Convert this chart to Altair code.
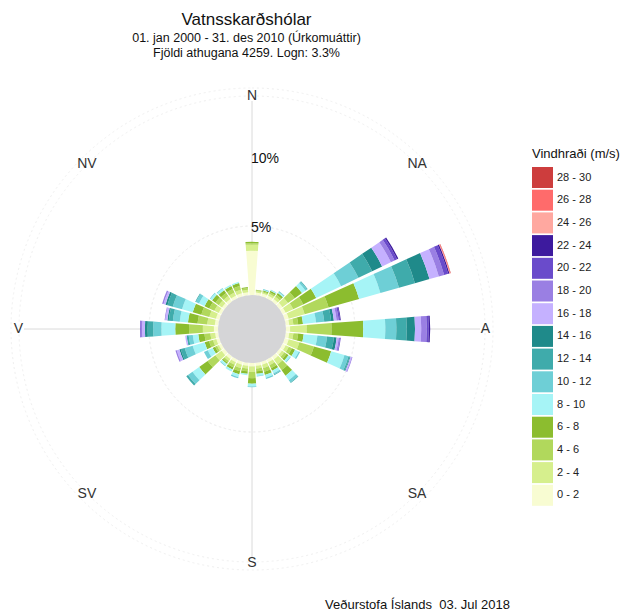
import math
import altair as alt
import pandas as pd

FONT = "Liberation Sans"

# ---------------- data ----------------
directions = [0, 10, 20, 30, 40, 50, 60, 70, 80, 90, 100, 110, 120, 130, 140, 150, 160, 170,
              180, 190, 200, 210, 220, 230, 240, 250, 260, 270, 280, 290, 300, 310, 320, 330, 340, 350]

speed_classes = ["0 - 2", "2 - 4", "4 - 6", "6 - 8", "8 - 10", "10 - 12", "12 - 14", "14 - 16",
                 "16 - 18", "18 - 20", "20 - 22", "22 - 24", "24 - 26", "26 - 28", "28 - 30"]
class_colors = ["#f8fcd2", "#d6ef8d", "#b1d85c", "#8cbd2f", "#a6f4f6", "#6ecfd6", "#3fabab", "#1f8a8a",
                "#c5b1ff", "#9a7fe3", "#6a4bcb", "#3d1a9e", "#ffa8a0", "#ff6b6b", "#cd3d3d"]

# frequency (%) per direction for each wind speed class
speed_0_2 = [3.2, 0.2, 0.2, 0.22, 0.22, 0.25, 0.25, 0.3, 0.25, 0.3, 0.25, 0.3, 0.25, 0.22, 0.25, 0.22, 0.22, 0.22,
             0.25, 0.22, 0.22, 0.22, 0.22, 0.25, 0.2, 0.22, 0.22, 0.3, 0.25, 0.25, 0.22, 0.22, 0.22, 0.22, 0.22, 0.22]
speed_2_4 = [0.45, 0.1, 0.1, 0.15, 0.2, 0.5, 0.6, 1.2, 0.3, 1.2, 0.3, 0.8, 0.25, 0.2, 0.45, 0.23, 0.25, 0.2,
             0.4, 0.2, 0.25, 0.2, 0.18, 0.55, 0.15, 0.25, 0.35, 0.8, 0.55, 0.5, 0.35, 0.28, 0.25, 0.25, 0.28, 0.18]
speed_4_6 = [0.1, 0.05, 0.08, 0.13, 0.18, 0.6, 0.8, 1.8, 0.35, 1.8, 0.35, 1.1, 0.25, 0.2, 0.5, 0.25, 0.28, 0.2,
             0.45, 0.2, 0.25, 0.2, 0.15, 0.7, 0.15, 0.3, 0.43, 1.0, 0.7, 0.6, 0.4, 0.3, 0.28, 0.28, 0.28, 0.12]
speed_6_8 = [0.1, 0.05, 0.07, 0.12, 0.15, 0.65, 1.05, 2.3, 0.35, 2.3, 0.4, 1.3, 0.25, 0.18, 0.5, 0.2, 0.25, 0.18,
             0.4, 0.18, 0.23, 0.18, 0.1, 0.75, 0.2, 0.33, 0.45, 1.0, 0.7, 0.65, 0.38, 0.3, 0.25, 0.25, 0.22, 0.08]
speed_8_10 = [0, 0, 0.05, 0.05, 0.08, 0.3, 2.0, 1.6, 0.95, 1.6, 1.0, 1.0, 0.3, 0.15, 0.4, 0.2, 0.2, 0.15,
              0.2, 0.1, 0.2, 0.15, 0.15, 0.6, 0.4, 0.9, 0.4, 1.0, 0.6, 0.8, 0.45, 0.15, 0.15, 0.1, 0.1, 0]
speed_10_12 = [0, 0, 0.05, 0.03, 0.05, 0.15, 1.4, 1.4, 0.6, 0.8, 0.7, 0.3, 0.1, 0.05, 0.2, 0.1, 0.1, 0.05,
               0.05, 0, 0.1, 0, 0.05, 0.4, 0.3, 0.6, 0.3, 0.6, 0.5, 0.7, 0.25, 0.05, 0.05, 0, 0, 0]
speed_12_14 = [0, 0, 0, 0, 0.02, 0.05, 1.1, 1.2, 0.5, 0.75, 0.5, 0.1, 0, 0, 0.05, 0.05, 0, 0,
               0, 0, 0, 0, 0, 0.15, 0, 0.3, 0.15, 0.4, 0.3, 0.4, 0.05, 0, 0, 0, 0, 0]
speed_14_16 = [0, 0, 0, 0, 0, 0, 0.8, 1.1, 0.2, 0.6, 0.2, 0.05, 0, 0, 0, 0, 0, 0,
               0, 0, 0, 0, 0, 0, 0, 0.1, 0, 0.2, 0.1, 0.15, 0, 0, 0, 0, 0, 0]
speed_16_18 = [0, 0, 0, 0, 0, 0, 0.7, 0.7, 0.2, 0.45, 0.15, 0.1, 0, 0, 0, 0, 0, 0,
               0, 0, 0, 0, 0, 0, 0, 0.2, 0.1, 0.2, 0.15, 0.15, 0, 0, 0, 0, 0, 0]
speed_18_20 = [0, 0, 0, 0, 0, 0, 0.3, 0.4, 0.15, 0.4, 0.1, 0.05, 0, 0, 0, 0, 0, 0,
               0, 0, 0, 0, 0, 0, 0, 0.1, 0, 0.1, 0.05, 0.1, 0, 0, 0, 0, 0, 0]
speed_20_22 = [0, 0, 0, 0, 0, 0, 0.2, 0.3, 0.1, 0.15, 0.05, 0, 0, 0, 0, 0, 0, 0,
               0, 0, 0, 0, 0, 0, 0, 0, 0, 0.05, 0, 0, 0, 0, 0, 0, 0, 0]
speed_22_24 = [0, 0, 0, 0, 0, 0, 0.1, 0.1, 0.05, 0.1, 0, 0, 0, 0, 0, 0, 0, 0,
               0, 0, 0, 0, 0, 0, 0, 0, 0, 0, 0, 0, 0, 0, 0, 0, 0, 0]
speed_24_26 = [0, 0, 0, 0, 0, 0, 0, 0.03, 0, 0, 0, 0, 0, 0, 0, 0, 0, 0,
               0, 0, 0, 0, 0, 0, 0, 0, 0, 0, 0, 0, 0, 0, 0, 0, 0, 0]
speed_26_28 = [0, 0, 0, 0, 0, 0, 0, 0.05, 0, 0, 0, 0, 0, 0, 0, 0, 0, 0,
               0, 0, 0, 0, 0, 0, 0, 0, 0, 0, 0, 0, 0, 0, 0, 0, 0, 0]
speed_28_30 = [0, 0, 0, 0, 0, 0, 0, 0.02, 0, 0, 0, 0, 0, 0, 0, 0, 0, 0,
               0, 0, 0, 0, 0, 0, 0, 0, 0, 0, 0, 0, 0, 0, 0, 0, 0, 0]

compass_names = ["N", "NA", "A", "SA", "S", "SV", "V", "NV"]
compass_angles = [0, 45, 90, 135, 180, 225, 270, 315]
ring_values = [5, 10]
ring_labels = ["5%", "10%"]
spoke_angles = [0, 90, 180, 270]

title_text = "Vatnsskarðshólar"
subtitle_lines = ["01. jan 2000 - 31. des 2010 (Úrkomuáttir)", "Fjöldi athugana 4259. Logn: 3.3%"]
footer_text = "Veðurstofa Íslands \u00a003. Jul 2018"
legend_title = "Vindhraði (m/s)"

# ---------------- build stacked segments ----------------
class_values = [speed_0_2, speed_2_4, speed_4_6, speed_6_8, speed_8_10, speed_10_12, speed_12_14,
                speed_14_16, speed_16_18, speed_18_20, speed_20_22, speed_22_24, speed_24_26,
                speed_26_28, speed_28_30]
HALF_WIDTH = 4.3  # degrees
rows = []
for i, d in enumerate(directions):
    cum = 0.0
    for k, cls in enumerate(speed_classes):
        v = class_values[k][i]
        if v > 0:
            rows.append({"dir": d, "t0": d - HALF_WIDTH, "t1": d + HALF_WIDTH,
                         "r0": cum, "r1": cum + v, "speed": cls})
            cum += v
seg = pd.DataFrame(rows)

theta_scale = alt.Scale(domain=[0, 360], range=[0, 2 * math.pi])
radius_scale = alt.Scale(type="linear", domain=[0, 15], range=[34, 241])
TWO_PI = 2 * math.pi

spokes = alt.Chart(pd.DataFrame({"angle": spoke_angles})).mark_arc(
    radius=228, radius2=34, fillOpacity=0, stroke="#e6e6e6", strokeWidth=1
).encode(
    theta=alt.Theta("angle:Q", scale=theta_scale, stack=False),
    theta2="angle:Q",
)

rings = alt.Chart(pd.DataFrame({"pct": ring_values})).mark_arc(
    theta=0, theta2=TWO_PI, fillOpacity=0, stroke="#f0f0f0", strokeWidth=1, strokeDash=[2, 3]
).encode(radius=alt.Radius("pct:Q", scale=radius_scale))

frame = alt.Chart(pd.DataFrame({"v": [0]})).mark_arc(
    theta=0, theta2=TWO_PI, radius=233, fillOpacity=0, strokeWidth=1, strokeDash=[2, 3]
).encode(stroke=alt.value("#f0f0f0"))

center = alt.Chart(pd.DataFrame({"v": [0]})).mark_arc(
    theta=0, theta2=TWO_PI, radius=34
).encode(color=alt.value("#d5d5d7"))

bars = alt.Chart(seg).mark_arc().encode(
    theta=alt.Theta("t0:Q", scale=theta_scale, stack=False),
    theta2="t1:Q",
    radius=alt.Radius("r1:Q", scale=radius_scale),
    radius2="r0:Q",
    color=alt.Color(
        "speed:N",
        scale=alt.Scale(domain=speed_classes[::-1], range=class_colors[::-1]),
        legend=alt.Legend(
            title=legend_title, orient="none", legendX=520, legendY=59,
            symbolType="square", symbolSize=441, symbolStrokeWidth=0, symbolOpacity=1,
            rowPadding=1.7, padding=0,
            titleFont=FONT, titleFontSize=13, titleFontWeight="normal", titleColor="#111111",
            titlePadding=6, titleLimit=200,
            labelFont=FONT, labelFontSize=11, labelColor="#222222", labelOffset=4,
        ),
    ),
)

compass = alt.Chart(pd.DataFrame({"name": compass_names, "angle": compass_angles})).mark_text(
    radius=233.5, font=FONT, fontSize=14, color="#333333"
).encode(
    theta=alt.Theta("angle:Q", scale=theta_scale, stack=False),
    text="name:N",
)

pct_labels = alt.Chart(pd.DataFrame({"pct": ring_values, "label": ring_labels})).mark_text(
    theta=0, align="left", baseline="middle", dx=-1, dy=1.5, font=FONT, fontSize=14, color="#111111"
).encode(
    radius=alt.Radius("pct:Q", scale=radius_scale),
    text="label:N",
)

footer = alt.Chart(pd.DataFrame({"t": [footer_text]})).mark_text(
    align="left", baseline="alphabetic", font=FONT, fontSize=13, color="#111111"
).encode(x=alt.value(313), y=alt.value(520), text="t:N")

chart = alt.layer(spokes, rings, frame, bars, center, compass, pct_labels, footer).properties(
    width=480,
    height=480,
    autosize=alt.AutoSizeParams(type="none"),
    padding={"left": 4, "top": 81, "right": 131, "bottom": 44},
    title=alt.TitleParams(
        text=title_text, subtitle=subtitle_lines, anchor="middle", frame="group",
        font=FONT, fontSize=17, fontWeight="normal", color="#111111",
        subtitleFont=FONT, subtitleFontSize=12.5, subtitleColor="#111111",
        subtitlePadding=3, subtitleLineHeight=15, offset=26, dx=-5.5,
    ),
).configure_view(stroke=None)

chart.save("out.html", embed_options={"renderer": "svg", "actions": False})
